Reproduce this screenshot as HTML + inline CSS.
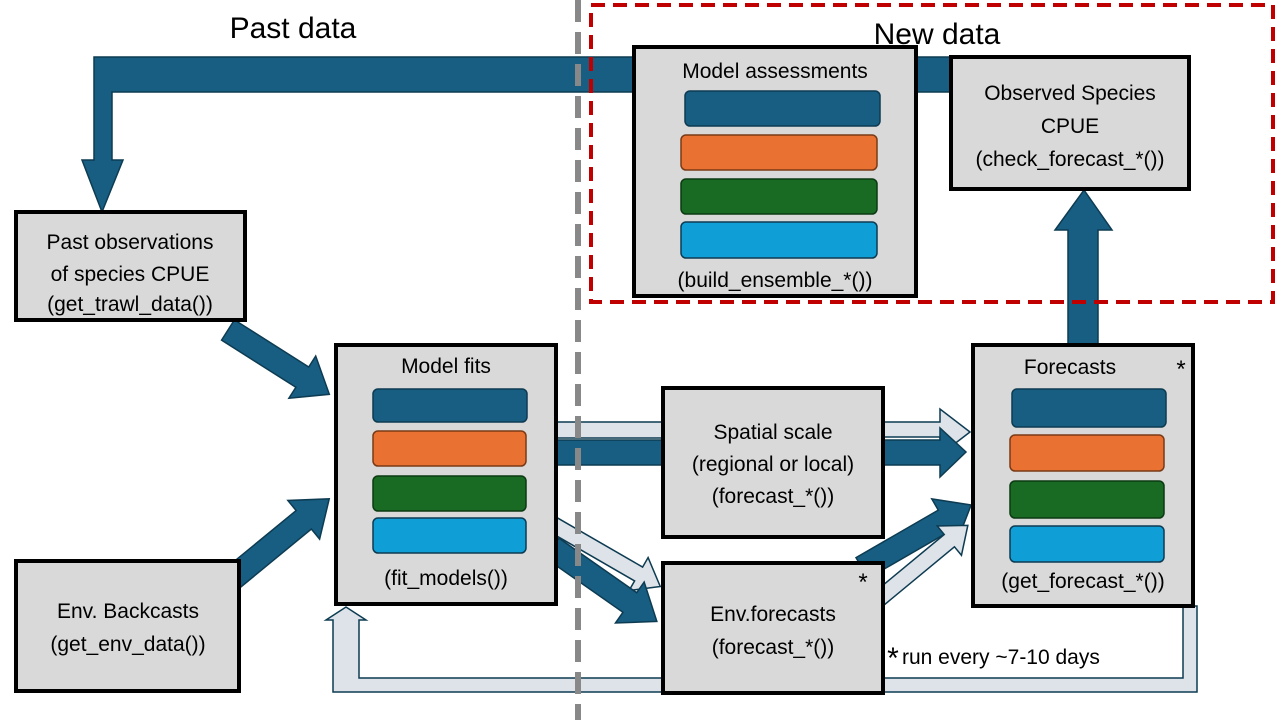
<!DOCTYPE html>
<html><head><meta charset="utf-8"><style>
html,body{margin:0;padding:0;background:#fff;}
svg{display:block;}
text{font-family:"Liberation Sans",sans-serif;fill:#000;}
</style></head><body>
<svg width="1280" height="720" viewBox="0 0 1280 720" xmlns="http://www.w3.org/2000/svg">
<polygon points="952,57 94,57 94,160 82,160 102,212 123,160 112,160 112,92 952,92" fill="#175e82" stroke="#0d3b52" stroke-width="1.5"/>
<polygon points="1183,606 1197,606 1197,692 333,692 333,620 326,620 346,607 366,620 359,620 359,678 1183,678" fill="#dde3e8" stroke="#0d3b52" stroke-width="1.5"/>
<rect x="556" y="422" width="110" height="16" fill="#dde3e8" stroke="#0d3b52" stroke-width="1.5"/>
<rect x="556" y="440" width="110" height="25" fill="#175e82" stroke="#0d3b52" stroke-width="1.5"/>
<polygon points="880,422 940,422 940,409 970,432 940,455 940,437 880,437" fill="#dde3e8" stroke="#0d3b52" stroke-width="1.5"/>
<polygon points="880,440 940,440 940,428 966,452 940,477 940,465 880,465" fill="#175e82" stroke="#0d3b52" stroke-width="1.5"/>
<g transform="translate(228,330) rotate(32.4)"><polygon points="0,-12 88,-12 88,-25 120,0 88,25 88,12 0,12" fill="#175e82" stroke="#0d3b52" stroke-width="1.5"/></g>
<g transform="translate(228,582) rotate(-39.4)"><polygon points="0,-12 98,-12 98,-25 131,0 98,25 98,12 0,12" fill="#175e82" stroke="#0d3b52" stroke-width="1.5"/></g>
<g transform="translate(552,524) rotate(30)"><polygon points="0,-8 100,-8 100,-19 125,0 100,19 100,8 0,8" fill="#dde3e8" stroke="#0d3b52" stroke-width="1.5"/></g>
<g transform="translate(552,548) rotate(35)"><polygon points="0,-12 95,-12 95,-25 128,0 95,25 95,12 0,12" fill="#175e82" stroke="#0d3b52" stroke-width="1.5"/></g>
<g transform="translate(862,568) rotate(-30)"><polygon points="0,-12 95,-12 95,-25 126,0 95,25 95,12 0,12" fill="#175e82" stroke="#0d3b52" stroke-width="1.5"/></g>
<g transform="translate(880,598) rotate(-39.6)"><polygon points="0,-8 90,-8 90,-19 114,0 90,19 90,8 0,8" fill="#dde3e8" stroke="#0d3b52" stroke-width="1.5"/></g>
<polygon points="1068,345 1068,230 1055,230 1084,190 1112,230 1098,230 1098,345" fill="#175e82" stroke="#0d3b52" stroke-width="1.5"/>
<line x1="578" y1="0" x2="578" y2="720" stroke="#888" stroke-width="6" stroke-dasharray="22,10"/>
<rect x="591" y="5" width="682" height="297" fill="none" stroke="#c00000" stroke-width="4" stroke-dasharray="14,8"/>
<text x="293" y="38" font-size="30" text-anchor="middle">Past data</text>
<text x="937" y="44" font-size="30" text-anchor="middle">New data</text>
<g fill="#d9d9d9" stroke="#000" stroke-width="4">
<rect x="16" y="212" width="229" height="108"/>
<rect x="16" y="561" width="223" height="130"/>
<rect x="336" y="345" width="220" height="259"/>
<rect x="663" y="388" width="220" height="149"/>
<rect x="663" y="563" width="220" height="130"/>
<rect x="973" y="345" width="220" height="261"/>
<rect x="634" y="47" width="282" height="249"/>
<rect x="951" y="57" width="238" height="132"/>
</g>
<g stroke-width="1.5">
<rect x="373" y="389" width="154" height="33" rx="5" fill="#175e82" stroke="#0d3b52"/>
<rect x="373" y="431" width="153" height="35" rx="5" fill="#e97132" stroke="#7a3a15"/>
<rect x="373" y="476" width="153" height="35" rx="5" fill="#196b24" stroke="#0c3a12"/>
<rect x="373" y="518" width="153" height="35" rx="5" fill="#0f9ed5" stroke="#0d3b52"/>
<rect x="1012" y="389" width="154" height="38" rx="5" fill="#175e82" stroke="#0d3b52"/>
<rect x="1010" y="435" width="154" height="36" rx="5" fill="#e97132" stroke="#7a3a15"/>
<rect x="1010" y="481" width="154" height="37" rx="5" fill="#196b24" stroke="#0c3a12"/>
<rect x="1010" y="526" width="154" height="36" rx="5" fill="#0f9ed5" stroke="#0d3b52"/>
<rect x="685" y="91" width="195" height="35" rx="5" fill="#175e82" stroke="#0d3b52"/>
<rect x="681" y="135" width="196" height="35" rx="5" fill="#e97132" stroke="#7a3a15"/>
<rect x="681" y="179" width="196" height="35" rx="5" fill="#196b24" stroke="#0c3a12"/>
<rect x="681" y="222" width="196" height="36" rx="5" fill="#0f9ed5" stroke="#0d3b52"/>
</g>
<g font-size="21" text-anchor="middle">
<text x="130" y="249">Past observations</text>
<text x="130" y="281">of species CPUE</text>
<text x="130" y="311">(get_trawl_data())</text>
<text x="128" y="618">Env. Backcasts</text>
<text x="128" y="651">(get_env_data())</text>
<text x="446" y="373">Model fits</text>
<text x="446" y="585">(fit_models())</text>
<text x="773" y="439">Spatial scale</text>
<text x="773" y="471">(regional or local)</text>
<text x="773" y="503">(forecast_*())</text>
<text x="773" y="621">Env.forecasts</text>
<text x="773" y="654">(forecast_*())</text>
<text x="1070" y="374">Forecasts</text>
<text x="1083" y="588">(get_forecast_*())</text>
<text x="775" y="78">Model assessments</text>
<text x="775" y="287">(build_ensemble_*())</text>
<text x="1070" y="100">Observed Species</text>
<text x="1070" y="133">CPUE</text>
<text x="1070" y="166">(check_forecast_*())</text>
</g>
<text x="863" y="590" font-size="24" text-anchor="middle">*</text>
<text x="1181" y="377" font-size="24" text-anchor="middle">*</text>
<text x="893" y="668" font-size="30" text-anchor="middle">*</text>
<text x="902" y="664" font-size="21">run every ~7-10 days</text>
</svg>
</body></html>
